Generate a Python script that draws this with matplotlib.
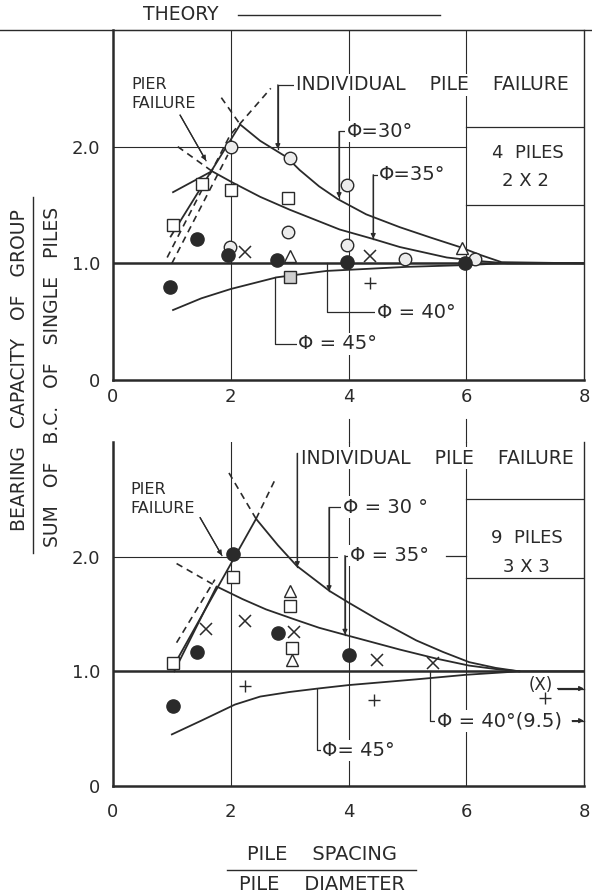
import numpy as np
import matplotlib.pyplot as plt
from matplotlib.lines import Line2D

plt.rcParams['font.family'] = ['DejaVu Sans']
INK = '#2a2a2a'

# ---------------- 4 piles, 2 x 2 ----------------
t4_phi30_x = [0.98, 2.16, 2.5, 2.95, 3.17, 3.5, 3.82, 4.3, 4.87, 5.4, 5.89, 6.25, 6.6, 8.0]
t4_phi30_y = [1.23, 2.19, 2.05, 1.91, 1.80, 1.66, 1.55, 1.42, 1.31, 1.22, 1.14, 1.07, 1.01, 1.0]
t4_phi35_x = [1.02, 1.68, 2.04, 2.5, 3.0, 3.5, 3.85, 4.41, 4.87, 5.67, 6.2, 6.7, 8.0]
t4_phi35_y = [1.61, 1.79, 1.69, 1.57, 1.46, 1.36, 1.29, 1.21, 1.14, 1.05, 1.02, 1.0, 1.0]
t4_phi45_x = [1.02, 1.5, 2.0, 2.78, 3.63, 5.0, 6.0, 6.6, 8.0]
t4_phi45_y = [0.60, 0.70, 0.78, 0.88, 0.935, 0.97, 0.985, 1.0, 1.0]
# dashed extensions
t4_dash = [
    ([1.1, 1.68], [2.0, 1.79]),
    ([1.84, 2.16], [2.42, 2.19]),
    ([0.92, 1.99, 2.68], [1.05, 2.1, 2.5]),
    ([1.0, 1.95], [1.0, 1.93]),
]

# test points (x, y)
t4_sq_x = [1.02, 1.51, 2.01, 2.98]
t4_sq_y = [1.33, 1.68, 1.63, 1.56]
t4_sqfill_x = [3.0]
t4_sqfill_y = [0.885]
t4_dot_x = [0.97, 1.42, 1.96, 2.78, 3.97, 5.98]
t4_dot_y = [0.80, 1.21, 1.07, 1.03, 1.01, 1.0]
t4_circ_x = [1.99, 2.0, 2.98, 3.0, 3.97, 3.97, 4.96, 6.15]
t4_circ_y = [1.14, 2.0, 1.27, 1.90, 1.67, 1.16, 1.04, 1.04]
t4_x_x = [2.24, 4.36]
t4_x_y = [1.10, 1.06]
t4_tri_x = [3.0, 5.92]
t4_tri_y = [1.06, 1.13]
t4_plus_x = [4.36]
t4_plus_y = [0.83]

# ---------------- 9 piles, 3 x 3 ----------------
t9_phi30_x = [1.0, 2.43, 2.8, 3.12, 3.68, 4.0, 4.5, 5.15, 5.6, 6.05, 6.5, 6.9, 8.0]
t9_phi30_y = [1.02, 2.33, 2.10, 1.92, 1.70, 1.60, 1.45, 1.27, 1.17, 1.08, 1.03, 1.0, 1.0]
t9_phi35_x = [1.04, 1.76, 2.2, 2.6, 3.1, 3.5, 4.0, 4.87, 5.5, 6.05, 6.5, 6.9]
t9_phi35_y = [1.0, 1.74, 1.63, 1.54, 1.45, 1.38, 1.31, 1.19, 1.11, 1.05, 1.02, 1.0]
t9_phi45_x = [1.0, 1.5, 2.07, 2.5, 3.0, 3.48, 4.0, 5.15, 6.0, 6.9]
t9_phi45_y = [0.45, 0.57, 0.71, 0.78, 0.82, 0.85, 0.88, 0.93, 0.97, 1.0]
t9_dash = [
    ([1.97, 2.43], [2.73, 2.33]),
    ([2.43, 2.77], [2.33, 2.69]),
    ([1.08, 1.76], [1.94, 1.74]),
    ([1.08, 1.73], [1.25, 1.80]),
]

t9_sq_x = [1.02, 2.04, 3.0, 3.04]
t9_sq_y = [1.07, 1.82, 1.57, 1.20]
t9_dot_x = [1.02, 1.42, 2.04, 2.81, 4.01]
t9_dot_y = [0.70, 1.17, 2.02, 1.33, 1.14]
t9_x_x = [1.58, 2.25, 3.08, 4.48, 5.43]
t9_x_y = [1.37, 1.44, 1.34, 1.10, 1.07]
t9_tri_x = [3.0, 3.04]
t9_tri_y = [1.70, 1.10]
t9_plus_x = [2.25, 4.43, 7.33]
t9_plus_y = [0.87, 0.75, 0.77]

W, H = 592, 893
fig = plt.figure(figsize=(W / 100, H / 100), dpi=100)
ax1 = fig.add_axes([113 / W, 1 - 380 / H, 471 / W, 350 / H])
ax2 = fig.add_axes([113 / W, 1 - 786 / H, 471 / W, 344 / H])

WB = dict(facecolor='white', edgecolor='none', pad=1.0)


def frame(ax, top_spine, xpad):
    ax.set_xlim(0, 8)
    ax.set_ylim(0, 3)
    ax.set_xticks([0, 2, 4, 6, 8])
    ax.set_yticks([0, 1, 2])
    ax.set_yticklabels(['0', '1.0', '2.0'])
    ax.tick_params(length=0, labelsize=13, colors=INK)
    ax.tick_params(axis='x', pad=xpad)
    ax.tick_params(axis='y', pad=9)
    for s in ['left', 'bottom']:
        ax.spines[s].set_linewidth(1.8)
    ax.spines['right'].set_linewidth(1.0)
    ax.spines['top'].set_visible(top_spine)
    for s in ax.spines.values():
        s.set_color(INK)
    for gx in [2, 4, 6]:
        ax.axvline(gx, color=INK, lw=0.8, zorder=1)
    ax.axhline(1.0, color=INK, lw=1.8, zorder=2)


def theory(ax, xs, ys):
    ax.plot(xs, ys, color=INK, lw=1.3, zorder=3)


def points(ax, sq, dots, circ, xs, tri, plus):
    kw = dict(ls='none', color=INK, zorder=4)
    if sq:
        ax.plot(*sq, marker='s', ms=9, mfc='white', mew=1.0, **kw)
    if circ:
        ax.plot(*circ, marker='o', ms=9, mfc='#ececec', mew=1.0, **kw)
    if dots:
        ax.plot(*dots, marker='o', ms=9.5, mfc=INK, **kw)
    if xs:
        ax.plot(*xs, marker='x', ms=9, mew=1.1, **kw)
    if tri:
        ax.plot(*tri, marker='^', ms=9, mfc='white', mew=1.0, **kw)
    if plus:
        ax.plot(*plus, marker='+', ms=9, mew=1.0, **kw)


def leader(ax, pts, arrow=True):
    xs = [p[0] for p in pts]
    ys = [p[1] for p in pts]
    ax.plot(xs, ys, color=INK, lw=0.9, zorder=3, clip_on=False)
    if arrow:
        ax.annotate('', xy=pts[-1], xytext=pts[-2],
                    arrowprops=dict(arrowstyle='-|>', color=INK, lw=0.9,
                                    mutation_scale=7, shrinkA=0, shrinkB=0))


def label(ax, x, y, s, size=13.5):
    ax.text(x, y, s, ha='left', va='center', fontsize=size, color=INK,
            bbox=WB, zorder=5)


# ---------------- top panel ----------------
frame(ax1, True, 6)
ax1.plot([0, 6], [2, 2], color=INK, lw=0.8, zorder=1)
theory(ax1, t4_phi30_x, t4_phi30_y)
theory(ax1, t4_phi35_x, t4_phi35_y)
theory(ax1, t4_phi45_x, t4_phi45_y)
for dx, dy in t4_dash:
    ax1.plot(dx, dy, color=INK, lw=1.2, ls=(0, (4, 3)), zorder=3)
points(ax1, (t4_sq_x, t4_sq_y), (t4_dot_x, t4_dot_y), (t4_circ_x, t4_circ_y),
       (t4_x_x, t4_x_y), (t4_tri_x, t4_tri_y), (t4_plus_x, t4_plus_y))
ax1.plot(t4_sqfill_x, t4_sqfill_y, ls='none', marker='s', ms=9, mfc='#cfcfcf',
         mec=INK, zorder=4)

ax1.plot([6, 8], [2.17, 2.17], color=INK, lw=0.9)
ax1.plot([6, 8], [1.50, 1.50], color=INK, lw=0.9)
ax1.text(7.05, 1.95, '4  PILES', ha='center', va='center', fontsize=13, color=INK)
ax1.text(7.0, 1.71, '2 X 2', ha='center', va='center', fontsize=13, color=INK)

ax1.text(0.32, 2.53, 'PIER', ha='left', va='center', fontsize=11.5, color=INK)
ax1.text(0.32, 2.37, 'FAILURE', ha='left', va='center', fontsize=11.5, color=INK)
leader(ax1, [(1.14, 2.27), (1.58, 1.88)])

label(ax1, 3.1, 2.53, 'INDIVIDUAL    PILE    FAILURE', 13.5)
leader(ax1, [(3.1, 2.53), (2.8, 2.53), (2.8, 1.98)])
label(ax1, 3.97, 2.13, 'Φ=30°', 14)
leader(ax1, [(3.97, 2.13), (3.84, 2.13), (3.84, 1.56)])
label(ax1, 4.52, 1.76, 'Φ=35°', 14)
leader(ax1, [(4.52, 1.76), (4.42, 1.76), (4.42, 1.21)])
label(ax1, 4.48, 0.58, 'Φ = 40°', 14)
leader(ax1, [(4.48, 0.58), (3.63, 0.58), (3.63, 1.0)], arrow=False)
label(ax1, 3.15, 0.31, 'Φ = 45°', 14)
leader(ax1, [(3.15, 0.31), (2.75, 0.31), (2.75, 0.88)], arrow=False)

# ---------------- bottom panel ----------------
frame(ax2, False, 12)
ax2.plot([0, 3.8], [2, 2], color=INK, lw=0.8, zorder=1)
for gx in [4, 6]:
    ax2.plot([gx, gx], [3.0, 3.2], color=INK, lw=0.8, clip_on=False)
theory(ax2, t9_phi30_x, t9_phi30_y)
theory(ax2, t9_phi35_x, t9_phi35_y)
theory(ax2, t9_phi45_x, t9_phi45_y)
for dx, dy in t9_dash:
    ax2.plot(dx, dy, color=INK, lw=1.2, ls=(0, (4, 3)), zorder=3)
points(ax2, (t9_sq_x, t9_sq_y), (t9_dot_x, t9_dot_y), None,
       (t9_x_x, t9_x_y), (t9_tri_x, t9_tri_y), (t9_plus_x, t9_plus_y))

ax2.plot([6, 8], [2.50, 2.50], color=INK, lw=0.9)
ax2.plot([6, 8], [1.81, 1.81], color=INK, lw=0.9)
ax2.text(7.03, 2.16, '9  PILES', ha='center', va='center', fontsize=13, color=INK)
ax2.text(7.03, 1.91, '3 X 3', ha='center', va='center', fontsize=13, color=INK)

ax2.text(0.3, 2.59, 'PIER', ha='left', va='center', fontsize=11.5, color=INK)
ax2.text(0.3, 2.42, 'FAILURE', ha='left', va='center', fontsize=11.5, color=INK)
leader(ax2, [(1.48, 2.34), (1.85, 2.01)])

label(ax2, 3.2, 2.86, 'INDIVIDUAL    PILE    FAILURE', 13.5)
leader(ax2, [(3.13, 2.9), (3.13, 1.91)])
label(ax2, 3.9, 2.43, 'Φ = 30 °', 14)
leader(ax2, [(3.9, 2.43), (3.67, 2.43), (3.67, 1.70)])
label(ax2, 4.02, 2.01, 'Φ = 35°', 14)
leader(ax2, [(4.02, 2.01), (3.94, 2.01), (3.94, 1.32)])
ax2.plot([5.65, 6.0], [2.01, 2.01], color=INK, lw=0.9)
label(ax2, 5.5, 0.57, 'Φ = 40°(9.5)', 14)
leader(ax2, [(5.5, 0.57), (5.38, 0.57), (5.38, 1.0)], arrow=False)
leader(ax2, [(7.8, 0.57), (8.0, 0.57)])
ax2.text(7.27, 0.88, '(X)', ha='center', va='center', fontsize=12, color=INK)
leader(ax2, [(7.55, 0.85), (8.0, 0.85)])
label(ax2, 3.55, 0.31, 'Φ= 45°', 14)
leader(ax2, [(3.55, 0.31), (3.47, 0.31), (3.47, 0.85)], arrow=False)

# ---------------- figure-level text ----------------
fig.add_artist(Line2D([0, 1], [1 - 30 / H] * 2, color=INK, lw=1.0))
fig.text(181 / W, 1 - 15 / H, 'THEORY', ha='center', va='center', fontsize=13.5, color=INK)
fig.add_artist(Line2D([238 / W, 440 / W], [1 - 15 / H] * 2, color=INK, lw=1.0))

fig.text(20 / W, 1 - 370 / H, 'BEARING   CAPACITY   OF   GROUP', rotation=90,
         ha='center', va='center', fontsize=13.5, color=INK)
fig.add_artist(Line2D([33 / W] * 2, [1 - 553 / H, 1 - 197 / H], color=INK, lw=1.0))
fig.text(53 / W, 1 - 377 / H, 'SUM   OF   B.C.   OF   SINGLE   PILES', rotation=90,
         ha='center', va='center', fontsize=13.5, color=INK)

fig.text(322 / W, 1 - 854 / H, 'PILE    SPACING', ha='center', va='center',
         fontsize=14, color=INK)
fig.add_artist(Line2D([227 / W, 416 / W], [1 - 870 / H] * 2, color=INK, lw=1.0))
fig.text(322 / W, 1 - 884 / H, 'PILE    DIAMETER', ha='center', va='center',
         fontsize=14, color=INK)

fig.savefig('out.png', dpi=100, facecolor='white')
